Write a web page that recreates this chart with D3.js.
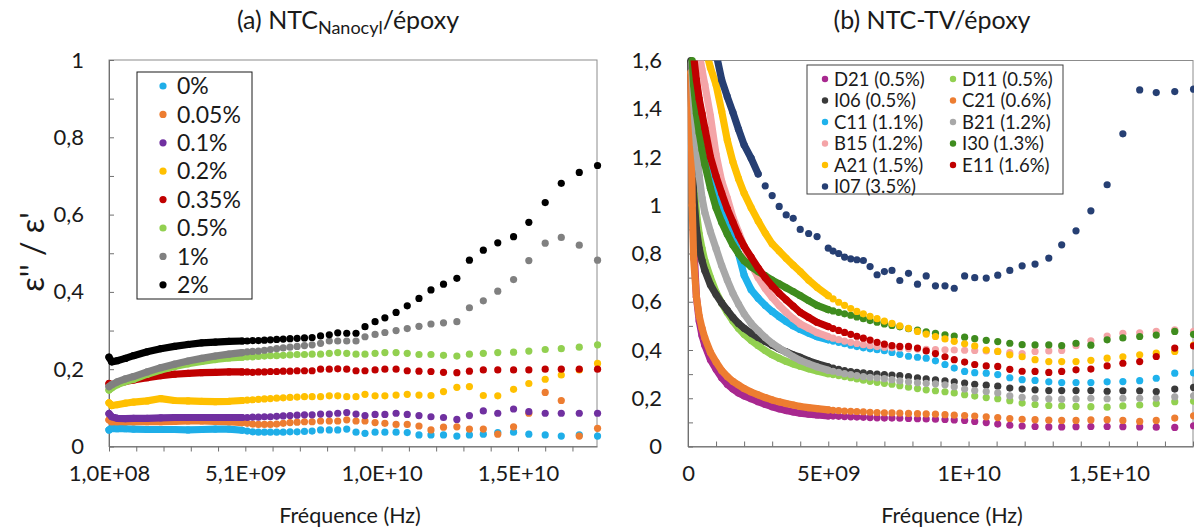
<!DOCTYPE html>
<html><head><meta charset="utf-8">
<script src="https://cdn.jsdelivr.net/npm/d3@7"></script>
<style>body{margin:0;background:#fff;} svg{display:block;}</style>
</head><body><svg id="c" width="1194" height="532"></svg>
<script>
// ---------- DATA : panel (a) NTC Nanocyl / epoxy ----------
const GHZ = 1e9;
const freqA = [0.1,0.2,0.4,0.7,1.0,1.5,2.0,2.5,3.0,3.5,4.0,4.5,4.98,5.17,5.37,5.58,5.80,6.02,6.25,6.49,6.74,7.00,7.27,7.55,7.86,8.18,8.49,8.82,9.16,9.49,9.86,10.22,10.63,11.04,11.47,11.91,12.37,12.86,13.32,13.83,14.36,14.94,15.50,16.10,16.69,17.35,18.02];
const namesA = ["0%","0.05%","0.1%","0.2%","0.35%","0.5%","1%","2%"];
const a_0 = [0.043,0.047,0.046,0.046,0.045,0.044,0.044,0.044,0.043,0.044,0.045,0.045,0.042,0.040,0.038,0.037,0.037,0.037,0.037,0.037,0.038,0.038,0.039,0.040,0.043,0.043,0.043,0.045,0.037,0.034,0.037,0.037,0.037,0.036,0.030,0.030,0.030,0.027,0.030,0.032,0.036,0.037,0.032,0.030,0.027,0.030,0.027];
const a_005 = [0.069,0.064,0.064,0.064,0.064,0.064,0.064,0.065,0.066,0.066,0.065,0.064,0.062,0.060,0.058,0.057,0.057,0.057,0.058,0.060,0.062,0.063,0.064,0.064,0.066,0.066,0.066,0.069,0.066,0.066,0.062,0.060,0.057,0.057,0.053,0.043,0.050,0.051,0.045,0.045,0.032,0.051,0.086,0.140,0.119,0.027,0.047];
const a_01 = [0.085,0.077,0.073,0.072,0.073,0.073,0.074,0.075,0.075,0.075,0.075,0.075,0.075,0.075,0.076,0.076,0.077,0.077,0.078,0.079,0.080,0.081,0.082,0.082,0.084,0.084,0.086,0.088,0.084,0.080,0.083,0.083,0.086,0.083,0.080,0.077,0.075,0.070,0.080,0.092,0.086,0.097,0.090,0.086,0.086,0.086,0.086];
const a_02 = [0.113,0.106,0.108,0.112,0.115,0.118,0.124,0.119,0.118,0.117,0.116,0.117,0.119,0.120,0.121,0.122,0.123,0.124,0.125,0.126,0.127,0.128,0.129,0.129,0.129,0.131,0.131,0.129,0.129,0.135,0.131,0.131,0.133,0.135,0.133,0.132,0.142,0.153,0.155,0.132,0.131,0.148,0.163,0.174,0.185,0.198,0.215];
const a_035 = [0.163,0.160,0.163,0.168,0.172,0.178,0.183,0.187,0.189,0.191,0.192,0.193,0.193,0.193,0.192,0.193,0.193,0.194,0.194,0.195,0.195,0.196,0.196,0.196,0.200,0.200,0.201,0.200,0.196,0.196,0.198,0.200,0.200,0.196,0.195,0.194,0.192,0.191,0.195,0.198,0.198,0.198,0.198,0.200,0.200,0.200,0.200];
const a_05 = [0.146,0.152,0.160,0.168,0.174,0.187,0.198,0.207,0.214,0.220,0.225,0.229,0.231,0.232,0.232,0.233,0.234,0.235,0.235,0.236,0.237,0.238,0.238,0.239,0.239,0.241,0.243,0.241,0.239,0.239,0.241,0.243,0.243,0.241,0.238,0.238,0.236,0.234,0.239,0.241,0.243,0.244,0.247,0.251,0.253,0.257,0.263];
const a_1 = [0.155,0.160,0.167,0.175,0.181,0.193,0.204,0.213,0.221,0.228,0.234,0.239,0.243,0.245,0.246,0.247,0.249,0.251,0.253,0.255,0.257,0.259,0.261,0.263,0.267,0.273,0.273,0.273,0.273,0.284,0.290,0.295,0.300,0.305,0.311,0.317,0.320,0.323,0.359,0.377,0.402,0.432,0.481,0.526,0.541,0.521,0.482];
const a_2 = [0.231,0.219,0.222,0.228,0.235,0.245,0.253,0.259,0.264,0.268,0.270,0.272,0.273,0.273,0.274,0.274,0.275,0.276,0.277,0.278,0.279,0.280,0.281,0.282,0.286,0.289,0.294,0.293,0.293,0.310,0.323,0.333,0.347,0.364,0.383,0.405,0.420,0.435,0.482,0.508,0.527,0.543,0.580,0.631,0.681,0.709,0.727];
const valuesA = [a_0,a_005,a_01,a_02,a_035,a_05,a_1,a_2];
const xTicksA = [0.1,1.1,2.1,3.1,4.1,5.1,6.1,7.1,8.1,9.1,10.1,11.1,12.1,13.1,14.1,15.1,16.1,17.1];
const xLabelsA = ["1,0E+08","5,1E+09","1,0E+10","1,5E+10"];
const yTicksA = [0,0.1,0.2,0.3,0.4,0.5,0.6,0.7,0.8,0.9,1.0];
const yLabelsA = ["0","0,2","0,4","0,6","0,8","1"];

// ---------- DATA : panel (b) NTC-TV / epoxy ----------
const freqB = [0.1,0.15,0.2,0.3,0.4,0.5,0.6,0.8,1.0,1.2,1.4,1.6,1.8,2.0,2.25,2.5,2.75,3.0,3.25,3.5,3.75,4.0,4.3,4.6,5.0,5.17,5.37,5.58,5.80,6.02,6.25,6.49,6.74,7.00,7.27,7.55,7.86,8.18,8.49,8.82,9.16,9.49,9.86,10.22,10.63,11.04,11.47,11.91,12.37,12.86,13.32,13.83,14.36,14.94,15.50,16.10,16.69,17.35,18.02];
const namesB = ["D21 (0.5%)","D11 (0.5%)","I06 (0.5%)","C21 (0.6%)","C11 (1.1%)","B21 (1.2%)","B15 (1.2%)","I30 (1.3%)","A21 (1.5%)","E11 (1.6%)","I07 (3.5%)"];
const b_D21 = [1.70,1.20,0.85,0.62,0.52, 0.46,0.42,0.36,0.32,0.285, 0.258,0.238,0.222,0.210,0.198, 0.186,0.175,0.165,0.156,0.149, 0.143,0.138,0.134,0.131,0.127, 0.126,0.125,0.124,0.123,0.122, 0.121,0.120,0.119,0.118,0.118, 0.117,0.116,0.115,0.114,0.113, 0.112,0.110,0.108,0.104,0.099, 0.093,0.088,0.085,0.083,0.081, 0.081,0.082,0.083,0.083,0.082, 0.081,0.080,0.079,0.086];
const b_D11 = [1.70,1.35,1.15,0.97,0.88, 0.82,0.77,0.70,0.64,0.595, 0.555,0.520,0.490,0.465,0.440, 0.418,0.398,0.380,0.366,0.353, 0.342,0.333,0.322,0.313,0.302, 0.298,0.294,0.290,0.285,0.280, 0.275,0.270,0.266,0.262,0.258, 0.252,0.246,0.240,0.235,0.231, 0.227,0.222,0.215,0.209,0.203, 0.198,0.190,0.180,0.174,0.170, 0.168,0.166,0.165,0.163,0.168, 0.172,0.178,0.186,0.188];
const b_I06 = [1.60,1.25,1.05,0.90,0.82, 0.77,0.73,0.67,0.63,0.595, 0.565,0.535,0.510,0.490,0.470, 0.452,0.436,0.420,0.405,0.392, 0.380,0.370,0.355,0.343,0.330, 0.325,0.320,0.315,0.310,0.307, 0.305,0.302,0.300,0.298,0.296, 0.294,0.290,0.285,0.280,0.276, 0.272,0.268,0.263,0.258,0.254, 0.250,0.242,0.238,0.235,0.232, 0.232,0.232,0.232,0.229,0.231, 0.231,0.228,0.238,0.245];
const b_C21 = [1.55,1.00,0.78,0.62,0.54, 0.49,0.45,0.39,0.35,0.315, 0.290,0.270,0.255,0.240,0.226, 0.214,0.203,0.193,0.185,0.178, 0.172,0.166,0.161,0.157,0.152, 0.150,0.149,0.147,0.146,0.145, 0.144,0.142,0.141,0.140,0.139, 0.138,0.137,0.136,0.135,0.134, 0.132,0.130,0.128,0.126,0.123, 0.120,0.116,0.113,0.111,0.109, 0.108,0.108,0.110,0.111,0.108, 0.104,0.108,0.118,0.127];
const b_C11 = [1.75,1.65,1.58,1.48,1.40, 1.33,1.27,1.17,1.08,1.00, 0.93,0.87,0.80,0.71,0.65, 0.615,0.585,0.560,0.538,0.518, 0.500,0.485,0.470,0.455,0.442, 0.437,0.432,0.426,0.420,0.414, 0.409,0.405,0.401,0.397,0.390, 0.382,0.374,0.370,0.366,0.355, 0.340,0.325,0.311,0.306,0.304, 0.298,0.285,0.277,0.274,0.268, 0.265,0.265,0.265,0.268,0.269, 0.273,0.283,0.304,0.305];
const b_B21 = [1.70,1.55,1.42,1.25,1.12, 1.03,0.97,0.89,0.82,0.75, 0.69,0.635,0.59,0.55,0.51, 0.48,0.452,0.428,0.408,0.39, 0.372,0.357,0.343,0.33,0.316, 0.312,0.307,0.302,0.298,0.294, 0.29,0.287,0.284,0.281,0.277, 0.272,0.268,0.264,0.262,0.26, 0.256,0.248,0.238,0.232,0.228, 0.222,0.21,0.204,0.2,0.198, 0.196,0.197,0.2,0.198,0.2, 0.2,0.2,0.206,0.21];
const b_B15 = [1.90,1.85,1.80,1.70,1.63, 1.56,1.50,1.37,1.21,1.10, 1.03,0.95,0.89,0.83,0.755, 0.70,0.655,0.618,0.585,0.556, 0.53,0.508,0.49,0.472,0.455, 0.449,0.443,0.437,0.432,0.427, 0.422,0.418,0.414,0.411,0.409, 0.408,0.406,0.404,0.403,0.402, 0.401,0.400,0.399,0.398,0.396, 0.394,0.389,0.385,0.394,0.396, 0.398,0.418,0.438,0.458,0.469, 0.471,0.477,0.484,0.477];
const b_I30 = [1.70,1.60,1.50,1.38,1.30, 1.23,1.17,1.07,0.99,0.93, 0.88,0.835,0.80,0.77,0.745, 0.725,0.708,0.69,0.674,0.658, 0.642,0.625,0.605,0.585,0.567, 0.562,0.556,0.55,0.544,0.537, 0.53,0.522,0.515,0.508,0.502, 0.496,0.488,0.482,0.475,0.469, 0.463,0.458,0.453,0.447,0.44, 0.435,0.428,0.422,0.421,0.421, 0.418,0.428,0.42,0.442,0.45, 0.456,0.462,0.477,0.465];
const b_A21 = [2.20,2.10,2.00,1.90,1.80, 1.72,1.66,1.57,1.50,1.39, 1.27,1.18,1.11,1.05,0.99, 0.935,0.885,0.84,0.81,0.78, 0.752,0.725,0.69,0.66,0.625, 0.612,0.598,0.585,0.572,0.56, 0.55,0.54,0.53,0.52,0.51, 0.50,0.49,0.477,0.466,0.456, 0.446,0.436,0.426,0.417,0.40, 0.394,0.38,0.372,0.36,0.352, 0.352,0.352,0.357,0.366,0.372, 0.38,0.387,0.394,0.42];
const b_E11 = [1.75,1.68,1.62,1.52,1.44, 1.38,1.32,1.20,1.12,1.05, 0.985,0.93,0.875,0.83,0.785, 0.74,0.70,0.665,0.635,0.608, 0.582,0.556,0.535,0.515,0.497, 0.489,0.481,0.473,0.465,0.457, 0.449,0.441,0.432,0.424,0.418, 0.415,0.415,0.408,0.396,0.385, 0.372,0.36,0.35,0.34,0.334, 0.332,0.32,0.312,0.311,0.307, 0.311,0.318,0.321,0.334,0.345, 0.352,0.373,0.408,0.417];
const b_I07 = [2.60,2.50,2.40,2.25,2.10, 2.00,1.90,1.75,1.63,1.52, 1.45,1.385,1.315,1.25,1.195, 1.13,1.08,1.04,0.995,0.96, 0.946,0.90,0.883,0.87,0.822, 0.81,0.80,0.785,0.778,0.774, 0.771,0.746,0.712,0.725,0.73, 0.688,0.718,0.673,0.707,0.666, 0.666,0.656,0.707,0.70,0.698, 0.71,0.73,0.749,0.756,0.781, 0.836,0.894,0.977,1.085,1.296, 1.478,1.467,1.471,1.481];
const valuesB = [b_D21,b_D11,b_I06,b_C21,b_C11,b_B21,b_B15,b_I30,b_A21,b_E11,b_I07];
const xTicksB = [0,1,2,3,4,5,6,7,8,9,10,11,12,13,14,15,16,17,18];
const xLabelsB = ["0","5E+09","1E+10","1,5E+10"];
const yTicksB = [0,0.1,0.2,0.3,0.4,0.5,0.6,0.7,0.8,0.9,1.0,1.1,1.2,1.3,1.4,1.5,1.6];
const yLabelsB = ["0","0,2","0,4","0,6","0,8","1","1,2","1,4","1,6"];

// ---------- STYLE ----------
const colorsA = ["#1FAEE8","#ED7D31","#7030A0","#FFC000","#C00000","#92D050","#808080","#000000"];
const colorsB = ["#A8288F","#92D050","#3A3A3A","#ED7D31","#1FB2EC","#A8A8A8","#F4A4A7","#3F8C1E","#FFC000","#C00000","#263F73"];
// frequency (GHz) up to which the dense sweep is rendered as a continuous band of markers
const bandA = [5,5,5,5,5,5,5,5];
const bandB = [5,5,5,5,5,5,5,5,5,5,2.6];
const FONT = "Lato, 'Open Sans', sans-serif";
const TXT = "#1a1a1a", AXC = "#707070", FRAME = "#8c8c8c";
const R = 3.6;
const TICK_FS = 22;

const svg = d3.select("#c");
const defs = svg.append("defs");

function panel(o) {
  const x = d3.scaleLinear().domain(o.xDomain).range(o.xRange);
  const y = d3.scaleLinear().domain(o.yDomain).range(o.yRange);
  const [x0, x1] = o.xRange, [yb, yt] = o.yRange;
  const g = svg.append("g");
  g.append("rect").attr("x", x0).attr("y", yt).attr("width", x1 - x0).attr("height", yb - yt)
    .attr("fill", "none").attr("stroke", FRAME).attr("stroke-width", 1);
  const ax = g.append("g").attr("transform", `translate(0,${yb})`)
    .call(d3.axisBottom(x).tickValues(o.xTicks.map(v => v * GHZ)).tickSizeInner(o.xTickIn ? -5 : 5).tickSizeOuter(0)
      .tickPadding(o.xTickIn ? 19 : 14)
      .tickFormat((d, i) => i % 5 === 0 ? o.xLabels[i / 5] : ""));
  const ay = g.append("g").attr("transform", `translate(${x0},0)`)
    .call(d3.axisLeft(y).tickValues(o.yTicks).tickSizeInner(-5).tickSizeOuter(0).tickPadding(o.yPad)
      .tickFormat((d, i) => i % 2 === 0 ? o.yLabels[i / 2] : ""));
  [ax, ay].forEach(a => {
    a.attr("font-family", FONT).attr("font-size", TICK_FS);
    a.selectAll(".domain").attr("stroke", AXC);
    a.selectAll(".tick line").attr("stroke", AXC);
    a.selectAll(".tick text").attr("fill", TXT);
  });
  const cl = o.id + "L", cd = o.id + "D";
  defs.append("clipPath").attr("id", cl).append("rect")
    .attr("x", x0 - 6).attr("y", yt).attr("width", x1 - x0 + 12).attr("height", yb - yt + 6);
  defs.append("clipPath").attr("id", cd).append("rect")
    .attr("x", x0 - 6).attr("y", yt - 6).attr("width", x1 - x0 + 12).attr("height", yb - yt + 12);
  const line = d3.line().x(d => x(d.f * GHZ)).y(d => y(d.v));
  o.values.forEach((vals, si) => {
    const pts = o.freq.map((f, i) => ({ f, v: vals[i] }));
    const sg = g.append("g");
    const band = pts.filter(p => p.f <= o.band[si]);
    if (band.length > 1) {
      sg.append("path").attr("clip-path", `url(#${cl})`)
        .attr("d", line(band))
        .attr("fill", "none").attr("stroke", o.colors[si]).attr("stroke-width", 2 * R)
        .attr("stroke-linecap", "round").attr("stroke-linejoin", "round");
    }
    sg.append("g").attr("clip-path", `url(#${cd})`).selectAll("circle")
      .data(pts.filter(p => p.v <= o.yDomain[1] + 0.01)).join("circle")
      .attr("cx", p => x(p.f * GHZ)).attr("cy", p => y(p.v)).attr("r", R).attr("fill", o.colors[si]);
  });
  g.append("text").attr("x", o.xTitleX).attr("y", 523).attr("text-anchor", "middle")
    .attr("font-family", FONT).attr("font-size", 21.5).attr("fill", TXT).text("Fréquence (Hz)");
  return { x, y, g };
}

panel({ id: "pa", xDomain: [0.1 * GHZ, 18 * GHZ], xRange: [109, 597], yDomain: [0, 1], yRange: [446.5, 60],
  xTicks: xTicksA, xLabels: xLabelsA, yTicks: yTicksA, yLabels: yLabelsA, yPad: 25, xTickIn: false,
  freq: freqA, values: valuesA, colors: colorsA, band: bandA, xTitleX: 350 });
panel({ id: "pb", xDomain: [0, 18 * GHZ], xRange: [688, 1193], yDomain: [0, 1.6], yRange: [446.5, 60.5],
  xTicks: xTicksB, xLabels: xLabelsB, yTicks: yTicksB, yLabels: yLabelsB, yPad: 26, xTickIn: true,
  freq: freqB, values: valuesB, colors: colorsB, band: bandB, xTitleX: 952 });

// titles
const t1 = svg.append("text").attr("x", 348).attr("y", 29).attr("text-anchor", "middle")
  .attr("font-family", FONT).attr("font-size", 25).attr("fill", TXT);
t1.append("tspan").text("(a) NTC");
t1.append("tspan").attr("font-size", 18).attr("dy", 5).text("Nanocyl");
t1.append("tspan").attr("dy", -5).text("/époxy");
svg.append("text").attr("x", 932).attr("y", 29).attr("text-anchor", "middle")
  .attr("font-family", FONT).attr("font-size", 25).attr("fill", TXT).text("(b) NTC-TV/époxy");

// y title
svg.append("text").attr("transform", "translate(44,252) rotate(-90)").attr("text-anchor", "middle")
  .attr("font-family", FONT).attr("font-size", 32).attr("fill", TXT).text("ε'' / ε'");

// legend (a)
const la = svg.append("g");
la.append("rect").attr("x", 137).attr("y", 72).attr("width", 115).attr("height", 227)
  .attr("fill", "#fff").attr("stroke", "#1a1a1a").attr("stroke-width", 1);
namesA.forEach((n, i) => {
  const cy = 86 + i * 28.4;
  la.append("circle").attr("cx", 163).attr("cy", cy).attr("r", R).attr("fill", colorsA[i]);
  la.append("text").attr("x", 177).attr("y", cy).attr("dy", "0.36em").attr("font-family", FONT)
    .attr("font-size", 23).attr("fill", TXT).text(n);
});
// legend (b)
const lb = svg.append("g");
lb.append("rect").attr("x", 807).attr("y", 65).attr("width", 256).attr("height", 129)
  .attr("fill", "#fff").attr("stroke", "#404040").attr("stroke-width", 1);
namesB.forEach((n, i) => {
  const col = i % 2, row = Math.floor(i / 2);
  const cy = 79 + row * 21.5, cx = col ? 953 : 825;
  lb.append("circle").attr("cx", cx).attr("cy", cy).attr("r", 3.2).attr("fill", colorsB[i]);
  lb.append("text").attr("x", cx + 9).attr("y", cy).attr("dy", "0.36em").attr("font-family", FONT)
    .attr("font-size", 18.5).attr("fill", TXT).text(n);
});
</script></body></html>
